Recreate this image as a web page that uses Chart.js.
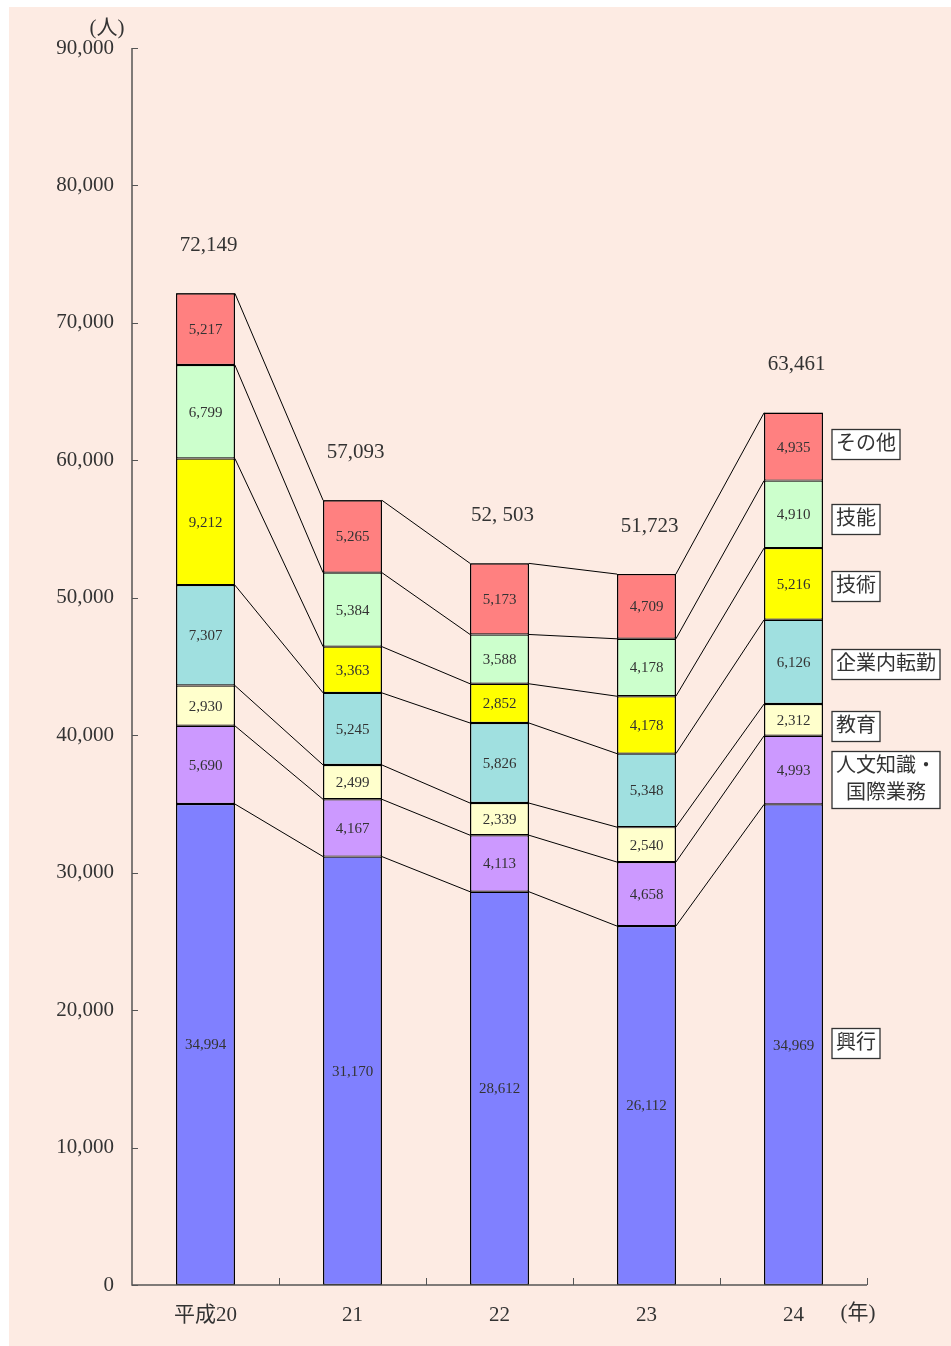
<!DOCTYPE html>
<html lang="ja">
<head>
<meta charset="UTF-8">
<title>在留資格別 人数の推移</title>
<script src="https://cdn.jsdelivr.net/npm/chart.js"></script>
<style>
    html, body { margin: 0; padding: 0; background: #ffffff; }
    #wrap { width: 951px; height: 1346px; position: relative; }
</style>
</head>
<body>
<div id="wrap"><canvas id="c" width="951" height="1346"></canvas></div>
<script>
// categories (years) and series, bottom to top
const years = ["平成20", "21", "22", "23", "24"];
const seriesNames = ["興行", "人文知識・国際業務", "教育", "企業内転勤", "技術", "技能", "その他"];
const kogyo    = [34994, 31170, 28612, 26112, 34969];
const jinbun   = [5690, 4167, 4113, 4658, 4993];
const kyoiku   = [2930, 2499, 2339, 2540, 2312];
const tenkin   = [7307, 5245, 5826, 5348, 6126];
const gijutsu  = [9212, 3363, 2852, 4178, 5216];
const gino     = [6799, 5384, 3588, 4178, 4910];
const sonota   = [5217, 5265, 5173, 4709, 4935];
const totalLabels = ["72,149", "57,093", "52, 503", "51,723", "63,461"];
const yTicks = [0, 10000, 20000, 30000, 40000, 50000, 60000, 70000, 80000, 90000];

const colors = ["#8080ff", "#cc99ff", "#ffffcc", "#a0e0e0", "#ffff00", "#ccffcc", "#ff8080"];
const seriesData = [kogyo, jinbun, kyoiku, tenkin, gijutsu, gino, sonota];
const boxLines = [["興行"], ["人文知識・", "国際業務"], ["教育"], ["企業内転勤"], ["技術"], ["技能"], ["その他"]];
const boxNudge = [-2, 9, 6, 2, 2, 5, -3];

const SERIF = '"Liberation Serif", "DejaVu Serif", "Noto Sans CJK JP", serif';
const INK = "#333333";

const bg = {
    id: "bg",
    beforeDraw(chart) {
        const ctx = chart.ctx;
        ctx.save();
        ctx.fillStyle = "#fdebe3";
        ctx.fillRect(9, 7, chart.width - 9, chart.height - 7);
        ctx.restore();
    }
};

const decor = {
    id: "decor",
    afterDatasetsDraw(chart) {
        const ctx = chart.ctx;
        const y = chart.scales.y;
        const area = chart.chartArea;
        ctx.save();

        // connecting lines between bars
        ctx.strokeStyle = "#000";
        ctx.lineWidth = 1;
        for (let s = 0; s < seriesData.length; s++) {
            const meta = chart.getDatasetMeta(s);
            for (let i = 0; i < years.length - 1; i++) {
                const a = meta.data[i], b = meta.data[i + 1];
                ctx.beginPath();
                ctx.moveTo(a.x + a.width / 2, a.y);
                ctx.lineTo(b.x - b.width / 2, b.y);
                ctx.stroke();
            }
        }

        // outer outline of each stacked bar
        ctx.lineWidth = 1;
        const topMeta = chart.getDatasetMeta(seriesData.length - 1);
        topMeta.data.forEach(bar => {
            const l = bar.x - bar.width / 2, r = bar.x + bar.width / 2;
            ctx.strokeRect(l + 0.5, bar.y + 0.5, r - l - 1, area.bottom - bar.y - 1);
        });

        // axes
        ctx.strokeStyle = "#555";
        ctx.lineWidth = 1.5;
        ctx.beginPath();
        ctx.moveTo(area.left, area.top);
        ctx.lineTo(area.left, area.bottom);
        ctx.lineTo(area.right, area.bottom);
        ctx.stroke();
        ctx.lineWidth = 1;
        yTicks.forEach(v => {
            const py = Math.round(y.getPixelForValue(v)) + 0.5;
            ctx.beginPath();
            ctx.moveTo(area.left, py);
            ctx.lineTo(area.left + 6, py);
            ctx.stroke();
        });
        const step = (area.right - area.left) / years.length;
        for (let i = 1; i <= years.length; i++) {
            const px = Math.round(area.left + step * i) + 0.5;
            ctx.beginPath();
            ctx.moveTo(px, area.bottom);
            ctx.lineTo(px, area.bottom - 7);
            ctx.stroke();
        }

        // segment values
        ctx.fillStyle = INK;
        ctx.font = "15px " + SERIF;
        ctx.textAlign = "center";
        ctx.textBaseline = "middle";
        for (let s = 0; s < seriesData.length; s++) {
            const meta = chart.getDatasetMeta(s);
            meta.data.forEach((bar, i) => {
                const mid = (bar.y + bar.base) / 2;
                ctx.fillText(seriesData[s][i].toLocaleString("en-US"), bar.x, mid + 1);
            });
        }

        // totals
        ctx.font = "21px " + SERIF;
        topMeta.data.forEach((bar, i) => {
            ctx.fillText(totalLabels[i], bar.x + 3, bar.y - 48);
        });

        // unit labels
        ctx.font = "21px " + SERIF;
        ctx.fillText("(人)", 107, 28);
        ctx.fillText("(年)", 858, 1313);

        // boxed series names beside last bar
        const last = years.length - 1;
        ctx.font = "20px " + SERIF;
        ctx.textAlign = "left";
        ctx.lineWidth = 1.3;
        for (let s = 0; s < seriesData.length; s++) {
            const bar = chart.getDatasetMeta(s).data[last];
            const cy = (bar.y + bar.base) / 2 + boxNudge[s];
            const lines = boxLines[s];
            const w = Math.max(...lines.map(t => ctx.measureText(t).width)) + 8;
            const h = lines.length * 27 + 3;
            const bx = 832, by = Math.round(cy - h / 2) + 0.5;
            ctx.fillStyle = "#ffffff";
            ctx.fillRect(bx, by, w, h);
            ctx.strokeStyle = "#333";
            ctx.strokeRect(bx, by, w, h);
            ctx.fillStyle = INK;
            lines.forEach((t, k) => {
                const tw = ctx.measureText(t).width;
                ctx.fillText(t, bx + (w - tw) / 2, by + 15 + k * 27);
            });
        }
        ctx.restore();
    }
};

new Chart(document.getElementById("c"), {
    type: "bar",
    data: {
        labels: years,
        datasets: seriesNames.map((name, s) => ({
            label: name,
            data: seriesData[s],
            backgroundColor: colors[s],
            borderColor: "#000",
            borderWidth: 1.2,
            borderSkipped: false,
            barPercentage: 0.4,
            categoryPercentage: 1
        }))
    },
    options: {
        responsive: false,
        animation: false,
        layout: { padding: { left: 0, right: 84, top: 48, bottom: 0 } },
        plugins: { legend: { display: false }, tooltip: { enabled: false } },
        scales: {
            x: {
                stacked: true,
                grid: { display: false },
                border: { display: false },
                ticks: { color: INK, font: { family: SERIF, size: 21 }, padding: 10 },
                afterFit(scale) { scale.height = 61; }
            },
            y: {
                stacked: true,
                min: 0,
                max: 90000,
                grid: { display: false },
                border: { display: false },
                ticks: {
                    stepSize: 10000,
                    color: INK,
                    padding: 10,
                    font: { family: SERIF, size: 21 },
                    callback: v => v.toLocaleString("en-US")
                },
                afterFit(scale) { scale.width = 132; }
            }
        }
    },
    plugins: [bg, decor]
});
</script>
</body>
</html>
